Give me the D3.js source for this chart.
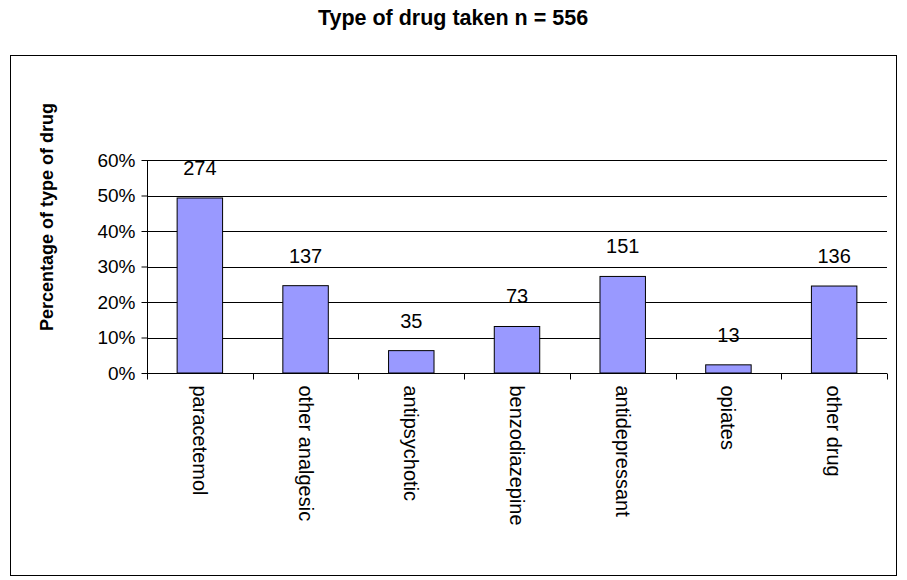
<!DOCTYPE html>
<html><head><meta charset="utf-8">
<script src="https://cdn.jsdelivr.net/npm/d3@7"></script>
<style>body{margin:0;background:#fff}text{font-family:Arial,"Liberation Sans",sans-serif}</style>
</head><body>
<script>
const categories = ['paracetemol','other analgesic','antipsychotic','benzodiazepine','antidepressant','opiates','other drug'];
const counts = [274,137,35,73,151,13,136];
const percents = [49.3,24.6,6.3,13.1,27.2,2.3,24.5];
const yTicks = [0,10,20,30,40,50,60];

const svg = d3.select('body').append('svg').attr('width',907).attr('height',580);
svg.append('rect').attr('x',10.5).attr('y',55.5).attr('width',886).attr('height',520)
  .attr('fill','#fff').attr('stroke','#000');
svg.append('text').attr('x',453).attr('y',25).attr('text-anchor','middle')
  .style('font-weight','bold').style('font-size','21.5px').text('Type of drug taken n = 556');

const x = d3.scaleBand().domain(categories).range([147,887]).paddingInner(0.57).paddingOuter(0.285);
const y = d3.scaleLinear().domain([0,60]).range([373,160]);

svg.selectAll('line.grid').data(yTicks.slice(1)).enter().append('line')
  .attr('x1',147).attr('x2',887).attr('y1',d=>Math.round(y(d))+0.5).attr('y2',d=>Math.round(y(d))+0.5)
  .attr('stroke','#000');

svg.selectAll('rect.bar').data(percents).enter().append('rect')
  .attr('x',(d,i)=>x(categories[i])).attr('y',d=>y(d))
  .attr('width',x.bandwidth()).attr('height',d=>y(0)-y(d))
  .attr('fill','#9999ff').attr('stroke','#000');

svg.selectAll('text.lab').data(percents).enter().append('text')
  .attr('x',(d,i)=>x(categories[i])+x.bandwidth()/2).attr('y',d=>y(d)-23)
  .attr('text-anchor','middle').style('font-size','20px').text((d,i)=>counts[i]);

const yAxis = svg.append('g').attr('transform','translate(147.5,0)')
  .call(d3.axisLeft(y).tickValues(yTicks).tickFormat(d=>d+'%').tickSize(6).tickPadding(6));
yAxis.select('.domain').attr('d','M0,160V373');
yAxis.selectAll('text').style('font-size','19px').attr('fill','#000');

const xAxis = svg.append('g').attr('transform','translate(0,373.5)');
xAxis.append('line').attr('x1',147).attr('x2',887).attr('stroke','#000');
xAxis.selectAll('line.t').data(d3.range(categories.length+1)).enter().append('line')
  .attr('x1',i=>Math.round(147+i*x.step())+0.5).attr('x2',i=>Math.round(147+i*x.step())+0.5)
  .attr('y1',0).attr('y2',6).attr('stroke','#000');
xAxis.selectAll('text').data(categories).enter().append('text')
  .attr('transform',d=>`translate(${x(d)+x.bandwidth()/2-7},12) rotate(90)`)
  .style('font-size','20px').text(d=>d);

svg.append('text').attr('transform','translate(53,217) rotate(-90)').attr('text-anchor','middle')
  .style('font-weight','bold').style('font-size','18px').text('Percentage of type of drug');
</script>
</body></html>
